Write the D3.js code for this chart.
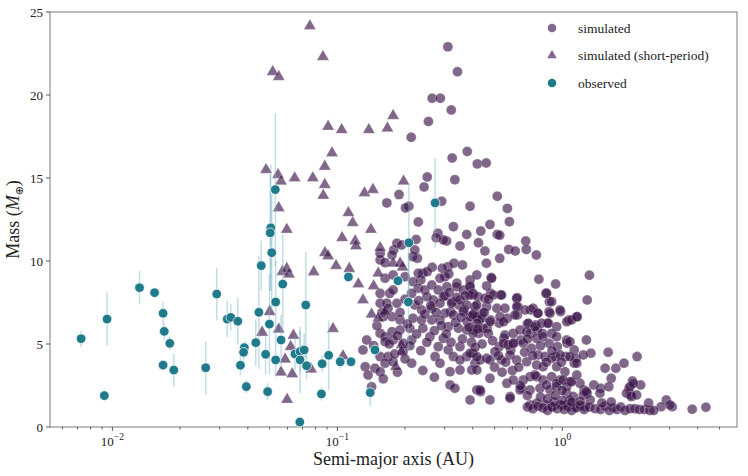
<!DOCTYPE html>
<html>
<head>
<meta charset="utf-8">
<script src="https://cdn.jsdelivr.net/npm/d3@7"></script>
<style>
  body { margin: 0; background: #fff; }
  svg { display: block; font-family: 'Liberation Serif', 'DejaVu Serif', serif; }
</style>
</head>
<body>
<svg id="chart" width="748" height="476"></svg>
<script>
// simulated planets [semi-major axis (AU), mass (M_earth)]
const simulated = [
  [0.310, 22.9], [0.342, 21.4], [0.264, 19.8], [0.287, 19.8], [0.321, 19.1], [0.254, 18.4],
  [0.213, 17.45], [0.378, 16.6], [0.324, 16.2], [0.419, 15.85], [0.459, 15.9], [0.251, 15.06],
  [0.333, 14.9], [0.243, 14.46], [0.188, 14.0], [0.514, 13.9], [0.166, 13.5], [0.208, 13.3],
  [0.201, 13.2], [0.291, 13.6], [0.389, 13.3], [0.570, 13.17], [0.582, 12.37], [0.477, 12.2],
  [0.229, 12.35], [0.328, 12.07],
  [0.424, 11.1], [0.376, 11.6], [0.434, 11.8], [0.514, 11.6], [0.527, 11.55], [0.688, 11.2],
  [0.692, 10.7], [0.578, 10.7], [0.618, 10.6], [0.767, 10.36], [0.453, 10.6], [0.527, 10.16],
  [0.351, 10.9], [0.306, 11.2], [0.280, 11.67], [0.275, 11.4], [0.224, 11.3], [0.227, 10.16],
  [0.155, 10.06], [0.155, 10.46], [0.178, 10.66], [0.184, 11.07], [0.193, 10.96], [0.296, 11.27],
  [0.46, 9.86], [0.311, 9.66], [0.301, 9.05], [0.34, 8.66],
  [0.264, 9.62], [0.293, 9.56], [0.313, 9.22], [0.330, 9.86], [0.360, 9.76], [0.240, 9.26],
  [0.251, 9.36], [0.235, 8.86], [0.787, 8.9], [0.934, 8.61], [0.483, 9.0], [0.388, 8.5],
  [0.401, 7.95], [0.845, 8.05], [0.876, 7.55], [1.29, 7.65], [1.32, 9.14], [0.631, 7.79],
  [0.532, 7.95], [0.480, 8.05], [0.635, 7.25], [0.724, 7.05], [0.774, 6.85], [0.873, 6.95],
  [0.983, 6.95], [1.07, 6.45], [1.166, 6.64], [0.699, 6.2], [0.762, 6.14], [0.858, 6.25],
  [0.631, 6.75], [0.570, 6.55], [0.524, 6.25], [0.480, 6.45], [0.441, 6.85], [0.426, 6.45],
  [0.405, 6.85], [0.378, 6.34], [0.366, 7.05], [0.347, 7.35], [0.324, 7.55], [0.319, 6.95],
  [0.464, 5.95], [0.426, 5.64], [0.405, 5.84], [0.610, 5.04], [0.654, 5.24], [0.590, 4.64],
  [0.524, 4.84], [0.550, 5.34], [0.724, 5.64], [0.774, 5.84], [0.815, 5.64], [0.873, 5.04],
  [0.95, 4.84], [1.05, 5.04], [1.13, 4.64], [0.934, 4.24], [1.035, 4.24], [1.13, 3.84],
  [1.15, 4.14], [1.28, 5.24], [1.34, 4.44], [1.60, 4.5], [1.55, 3.54], [1.73, 3.54],
  [1.88, 3.84], [2.15, 4.24], [1.65, 2.93], [1.38, 2.53], [1.48, 2.33], [1.61, 2.43],
  [2.05, 2.77], [2.23, 2.53], [1.98, 2.33], [2.01, 1.93], [1.25, 2.23], [1.29, 2.03],
  [2.90, 1.63], [2.75, 1.22], [3.08, 1.22], [3.78, 1.07], [4.35, 1.19],
  [0.163, 9.9], [0.175, 10.36], [0.217, 10.26], [0.221, 10.66], [0.229, 9.26], [0.389, 8.86],
  [0.417, 9.16], [0.163, 8.96], [0.177, 9.16], [0.200, 9.05], [0.217, 8.75], [0.229, 8.36],
  [0.245, 8.25], [0.263, 8.55], [0.286, 8.96], [0.281, 8.25], [0.307, 8.45], [0.339, 8.45],
  [0.363, 8.25], [0.389, 8.45], [0.401, 8.05], [0.155, 8.05], [0.171, 8.05], [0.177, 8.25],
  [0.214, 8.05], [0.250, 7.85], [0.267, 7.65], [0.296, 7.85], [0.322, 7.45], [0.351, 7.65],
  [0.376, 7.35], [0.409, 7.25], [0.155, 7.45], [0.166, 7.45], [0.184, 7.45], [0.221, 7.35],
  [0.237, 7.05], [0.263, 7.15], [0.286, 7.45], [0.301, 6.85], [0.328, 6.75], [0.363, 6.95],
  [0.389, 6.64], [0.417, 6.64], [0.175, 6.64], [0.190, 6.45], [0.217, 6.55], [0.237, 6.45],
  [0.263, 6.45], [0.286, 6.45], [0.311, 6.04], [0.345, 5.95], [0.376, 5.84], [0.401, 5.64],
  [0.135, 5.24], [0.155, 5.64], [0.163, 5.44], [0.175, 5.74], [0.190, 5.84], [0.210, 5.95],
  [0.240, 5.95], [0.258, 5.44], [0.296, 5.34], [0.163, 5.14], [0.177, 5.24], [0.196, 5.04],
  [0.214, 5.24], [0.281, 4.84], [0.311, 4.64], [0.351, 4.84], [0.376, 4.24], [0.401, 4.44],
  [0.130, 4.64], [0.155, 4.24], [0.168, 4.24], [0.196, 4.54], [0.272, 4.24], [0.286, 3.84],
  [0.328, 4.24], [0.351, 4.04], [0.409, 3.84], [0.431, 4.04], [0.133, 3.63], [0.147, 3.54],
  [0.163, 3.84], [0.177, 3.93], [0.214, 3.84], [0.317, 3.33], [0.351, 3.43], [0.396, 3.43],
  [0.137, 3.13], [0.155, 3.33], [0.317, 2.53], [0.333, 2.33], [0.389, 1.63], [0.417, 2.23],
  [0.142, 2.43], [0.160, 6.64], [0.168, 7.15], [0.433, 2.13], [0.477, 1.63], [0.586, 1.83],
  [0.389, 7.95], [0.422, 7.85], [0.453, 7.75], [0.493, 7.95], [0.537, 7.95], [0.627, 7.75],
  [0.852, 8.05], [0.897, 7.55], [0.417, 7.35], [0.461, 7.25], [0.512, 7.15], [0.556, 7.15],
  [0.627, 7.25], [0.683, 7.05], [0.742, 7.15], [0.781, 6.85], [0.882, 6.85], [0.977, 7.05],
  [0.401, 6.75], [0.438, 6.55], [0.477, 6.34], [0.529, 6.64], [0.548, 6.34], [0.616, 6.75],
  [0.707, 6.25], [0.756, 6.04], [0.810, 6.25], [0.867, 6.25], [0.944, 6.04], [1.046, 6.34],
  [1.10, 6.45], [1.16, 6.64], [0.417, 6.25], [0.445, 5.95], [0.469, 5.64], [0.556, 5.54],
  [0.605, 5.64], [0.649, 5.84], [0.695, 5.74], [0.769, 5.34], [0.821, 5.44], [0.897, 5.64],
  [0.944, 5.44], [1.046, 5.24], [1.082, 5.14], [0.389, 4.44], [0.417, 4.24], [0.461, 4.14],
  [0.502, 4.54], [0.548, 5.04], [0.575, 4.94], [0.605, 5.04], [0.671, 5.04], [0.730, 4.74],
  [0.781, 4.34], [0.838, 4.24], [0.897, 4.14], [0.977, 4.34], [1.082, 4.24], [1.16, 3.84],
  [1.24, 4.34], [0.417, 3.43], [0.477, 4.04], [0.537, 4.04], [0.586, 4.34], [0.627, 4.04],
  [0.695, 3.93], [0.769, 3.73], [0.821, 3.63], [0.944, 3.63], [1.028, 3.33], [0.477, 2.93],
  [0.567, 2.63], [0.605, 2.83], [0.671, 2.83], [0.719, 3.03], [0.769, 3.03], [0.821, 2.83],
  [0.897, 3.03], [0.977, 2.83], [1.082, 2.73], [1.198, 2.63], [0.431, 2.23], [0.586, 1.73],
  [0.66, 2.33], [0.719, 2.23], [0.796, 2.33], [0.882, 2.23], [0.944, 2.43], [1.046, 2.03],
  [1.12, 1.83], [1.24, 1.93], [0.719, 1.33], [0.769, 1.43], [0.838, 1.33], [0.897, 1.22],
  [0.977, 1.33], [1.046, 1.33], [1.082, 1.63], [1.16, 1.22], [1.26, 1.22],
  [0.485, 8.96], [0.461, 8.5], [1.47, 2.03], [1.28, 2.13], [1.33, 1.63], [1.93, 2.03],
  [2.0, 2.43], [2.07, 2.63], [2.03, 1.83], [2.14, 1.93], [3.01, 1.33], [0.649, 2.23],
  [0.756, 3.13], [0.852, 2.53], [0.944, 2.63], [1.01, 2.83], [1.046, 2.43], [1.10, 2.73],
  [1.16, 3.13],
  [0.70, 1.2], [0.74, 1.1], [0.78, 1.25], [0.82, 1.15], [0.86, 1.0], [0.90, 1.2], [0.95, 1.1],
  [0.99, 1.3], [1.02, 1.05], [1.06, 1.2], [1.10, 1.0], [1.15, 1.15], [1.20, 1.3], [1.25, 1.05],
  [1.32, 1.2], [1.40, 1.1], [1.48, 1.05], [1.55, 1.25], [1.62, 1.0], [1.68, 1.15], [1.75, 1.05],
  [1.82, 1.2], [1.90, 1.0], [2.0, 1.1], [2.1, 1.1], [2.2, 1.05], [2.32, 1.05], [2.45, 1.0],
  [2.55, 1.0], [2.42, 1.45], [1.1, 1.5], [1.0, 1.6], [0.92, 1.5], [1.2, 1.55], [1.5, 1.45],
  [1.65, 1.5],
  [0.145, 4.9], [0.150, 6.1], [0.158, 6.9], [0.170, 5.0], [0.180, 4.4], [0.185, 5.5],
  [0.190, 6.9], [0.200, 7.7], [0.205, 6.2], [0.210, 4.9], [0.225, 5.6], [0.230, 7.6],
  [0.235, 4.6], [0.245, 6.8], [0.250, 5.1], [0.260, 7.3], [0.270, 5.8], [0.275, 6.9],
  [0.290, 6.1], [0.300, 7.9], [0.305, 5.6], [0.315, 8.1], [0.320, 5.1], [0.335, 6.3],
  [0.340, 7.8], [0.355, 6.6], [0.360, 5.3], [0.370, 7.9], [0.385, 6.0], [0.395, 5.1],
  [0.410, 4.8], [0.420, 5.9], [0.440, 5.0], [0.450, 6.9], [0.470, 7.7], [0.490, 5.2],
  [0.500, 3.6], [0.520, 4.3], [0.540, 3.3], [0.560, 3.9], [0.600, 3.4], [0.640, 3.6],
  [0.680, 4.5], [0.700, 5.3], [0.740, 4.3], [0.800, 4.9], [0.850, 3.9], [0.900, 4.6],
  [0.990, 3.9], [0.650, 2.5], [0.700, 1.9], [0.800, 1.8], [0.860, 1.7], [0.930, 1.9],
  [1.000, 2.2], [0.200, 4.1], [0.185, 3.3], [0.160, 2.9], [0.240, 3.4], [0.270, 3.0]
];

// simulated short-period planets [a, mass]
const shortPeriod = [
  [0.0755, 24.16], [0.0863, 22.3], [0.0516, 21.4], [0.0549, 21.1], [0.091, 18.1], [0.1045, 17.9],
  [0.138, 17.9], [0.0947, 16.5], [0.0482, 15.5], [0.0879, 15.7], [0.0545, 15.2], [0.0562, 14.8],
  [0.0646, 15.0], [0.0778, 15.0], [0.0879, 14.6], [0.0866, 13.95], [0.132, 14.1], [0.144, 14.3],
  [0.0549, 13.2], [0.112, 12.9], [0.117, 12.3], [0.0596, 11.9], [0.105, 11.4], [0.120, 11.2],
  [0.121, 10.9], [0.141, 11.9], [0.0881, 10.5], [0.091, 10.3], [0.0987, 9.72], [0.113, 9.54],
  [0.0570, 9.36], [0.0596, 9.54], [0.061, 9.2], [0.0785, 9.34], [0.124, 8.61], [0.145, 8.5],
  [0.130, 7.65], [0.142, 6.79], [0.050, 6.95], [0.0549, 5.89], [0.0463, 5.7], [0.0957, 5.92],
  [0.0638, 5.52], [0.062, 4.84], [0.0586, 4.08], [0.0562, 3.3], [0.0630, 3.19], [0.0765, 3.48],
  [0.0598, 1.65], [0.106, 4.28], [0.155, 10.8], [0.177, 9.86], [0.190, 9.86],
  [0.195, 9.62], [0.152, 9.26], [0.152, 6.55], [0.163, 6.95], [0.193, 4.94], [0.193, 4.54],
  [0.182, 3.63], [0.177, 18.75], [0.167, 18.0], [0.197, 14.8]
];

// observed planets
const obsA = [
  0.00726, 0.00921, 0.00947, 0.0132, 0.0154, 0.0168, 0.0170, 0.0180, 0.0168, 0.01875,
  0.0260, 0.0291, 0.0324, 0.0336, 0.0361, 0.0386, 0.0383, 0.0371, 0.0394, 0.0434,
  0.0448, 0.0459, 0.048, 0.049, 0.0499, 0.0506, 0.0503, 0.0511, 0.053, 0.0532,
  0.0532, 0.0562, 0.0572, 0.0648, 0.0681, 0.0683, 0.0683, 0.0712, 0.0724, 0.073,
  0.0856, 0.085, 0.0915, 0.103, 0.112, 0.115, 0.140, 0.147, 0.186, 0.207, 0.208, 0.272
];
const obsM = [
  5.32, 1.89, 6.5, 8.39, 8.09, 6.85, 5.76, 5.04, 3.73, 3.43,
  3.57, 8.01, 6.5, 6.6, 6.37, 4.78, 4.5, 3.72, 2.43, 5.08,
  6.91, 9.72, 4.38, 2.13, 6.2, 12.0, 11.7, 10.5, 14.3, 7.53,
  4.04, 5.24, 8.61, 4.4, 0.3, 4.54, 4.04, 4.64, 7.35, 3.69,
  3.81, 1.99, 4.32, 3.93, 9.04, 3.93, 2.07, 4.64, 8.81, 7.53, 11.1, 13.5
];
const obsErr = [
  0.5, 0, 1.6, 1.0, 0.3, 0.7, 0.5, 0.4, 0.3, 1.0,
  1.6, 1.6, 1.1, 0.8, 1.4, 0.4, 0.5, 0.6, 0.4, 1.4,
  3.4, 1.5, 1.2, 0.5, 3.0, 3.8, 3.5, 3.5, 4.6, 2.5,
  1.0, 1.5, 3.0, 1.0, 0.3, 1.3, 2.0, 1.0, 3.2, 0.8,
  0.5, 0.4, 2.1, 0.4, 0.3, 0.3, 0.8, 0.5, 0.3, 3.0, 3.5, 2.7
];

const yTicks = [0, 5, 10, 15, 20, 25];
const xTicks = [0.01, 0.1, 1];
const legendItems = ['simulated', 'simulated (short-period)', 'observed'];

const simColor = 'rgba(58, 18, 72, 0.64)';
const obsColor = '#1f7a8c';
const errColor = 'rgba(120, 180, 195, 0.45)';

const svg = d3.select('#chart');
const margin = { left: 50, right: 11, top: 12, bottom: 49 };
const W = 748, H = 476;

const x = d3.scaleLog().domain([0.00528, 5.98]).range([margin.left, W - margin.right]);
const y = d3.scaleLinear().domain([0, 25]).range([H - margin.bottom, margin.top]);

// frame
svg.append('rect')
  .attr('x', x.range()[0]).attr('y', y.range()[1])
  .attr('width', x.range()[1] - x.range()[0])
  .attr('height', y.range()[0] - y.range()[1])
  .attr('fill', 'none').attr('stroke', '#7a7a7a').attr('stroke-width', 1);

// x axis: major and minor ticks
const minor = [];
for (let e = -3; e <= 0; e++) {
  for (let k = 1; k <= 9; k++) {
    const v = k * Math.pow(10, e);
    if (v >= x.domain()[0] && v <= x.domain()[1]) minor.push(v);
  }
}
const xg = svg.append('g').attr('transform', `translate(0,${y.range()[0]})`);
xg.selectAll('line.minor').data(minor).join('line')
  .attr('x1', d => x(d)).attr('x2', d => x(d))
  .attr('y1', 0).attr('y2', d => (xTicks.includes(d) ? 4 : 2.5))
  .attr('stroke', '#333').attr('stroke-width', 0.8);

const sup = { '-2': '\u22122', '-1': '\u22121', '0': '0' };
const xl = xg.selectAll('text.tick').data(xTicks).join('text')
  .attr('x', d => x(d)).attr('y', 19)
  .attr('text-anchor', 'middle').attr('font-size', 13).attr('fill', '#222');
xl.append('tspan').text('10');
xl.append('tspan').attr('dy', -6).attr('font-size', 9.5)
  .text(d => sup[String(Math.round(Math.log10(d)))]);

// y axis
const yg = svg.append('g').attr('transform', `translate(${x.range()[0]},0)`);
yg.selectAll('line').data(yTicks).join('line')
  .attr('x1', -4).attr('x2', 0)
  .attr('y1', d => y(d)).attr('y2', d => y(d))
  .attr('stroke', '#333').attr('stroke-width', 0.8);
yg.selectAll('text').data(yTicks).join('text')
  .attr('x', -7).attr('y', d => y(d) + 4.5)
  .attr('text-anchor', 'end').attr('font-size', 13).attr('fill', '#222')
  .text(d => d);

// axis labels
svg.append('text')
  .attr('x', (x.range()[0] + x.range()[1]) / 2).attr('y', 465)
  .attr('text-anchor', 'middle').attr('font-size', 18).attr('fill', '#222')
  .text('Semi-major axis (AU)');

const yl = svg.append('text')
  .attr('transform', `translate(19,${(y.range()[0] + y.range()[1]) / 2}) rotate(-90)`)
  .attr('text-anchor', 'middle').attr('font-size', 18).attr('fill', '#222');
yl.append('tspan').text('Mass (');
yl.append('tspan').attr('font-style', 'italic').text('M');
yl.append('tspan').attr('font-size', 11).attr('dy', 4)
  .attr('font-family', 'DejaVu Sans').text('\u2295');
yl.append('tspan').attr('dy', -4).text(')');

const plot = svg.append('g');

// simulated circles
plot.selectAll('circle.sim').data(simulated).join('circle')
  .attr('class', 'sim')
  .attr('cx', d => x(d[0])).attr('cy', d => y(d[1])).attr('r', 5)
  .attr('fill', simColor).attr('stroke', 'rgba(255,255,255,0.5)').attr('stroke-width', 0.5);

// short-period triangles
const tri = d3.symbol().type(d3.symbolTriangle).size(64);
plot.selectAll('path.sp').data(shortPeriod).join('path')
  .attr('class', 'sp')
  .attr('transform', d => `translate(${x(d[0])},${y(d[1])})`)
  .attr('d', tri)
  .attr('fill', simColor).attr('stroke', 'rgba(255,255,255,0.5)').attr('stroke-width', 0.5);

// observed with error bars
const obs = obsA.map((a, i) => ({ a, m: obsM[i], e: obsErr[i] }));
plot.selectAll('line.err').data(obs.filter(d => d.e > 0)).join('line')
  .attr('class', 'err')
  .attr('x1', d => x(d.a)).attr('x2', d => x(d.a))
  .attr('y1', d => y(Math.max(0, d.m - d.e))).attr('y2', d => y(d.m + d.e))
  .attr('stroke', errColor).attr('stroke-width', 1.5);
plot.selectAll('circle.obs').data(obs).join('circle')
  .attr('class', 'obs')
  .attr('cx', d => x(d.a)).attr('cy', d => y(d.m)).attr('r', 4.8)
  .attr('fill', obsColor).attr('stroke', '#fff').attr('stroke-width', 0.7);

// legend
const lg = svg.append('g').attr('transform', 'translate(552,28)');
legendItems.forEach((label, i) => {
  const row = lg.append('g').attr('transform', `translate(0,${i * 27.5})`);
  if (i === 1) {
    row.append('path').attr('d', d3.symbol().type(d3.symbolTriangle).size(40))
      .attr('fill', simColor);
  } else {
    row.append('circle').attr('r', 4.3)
      .attr('fill', i === 0 ? simColor : obsColor);
  }
  row.append('text').attr('x', 26).attr('y', 4.5)
    .attr('font-size', 13.5).attr('fill', '#222').text(label);
});
</script>
</body>
</html>
